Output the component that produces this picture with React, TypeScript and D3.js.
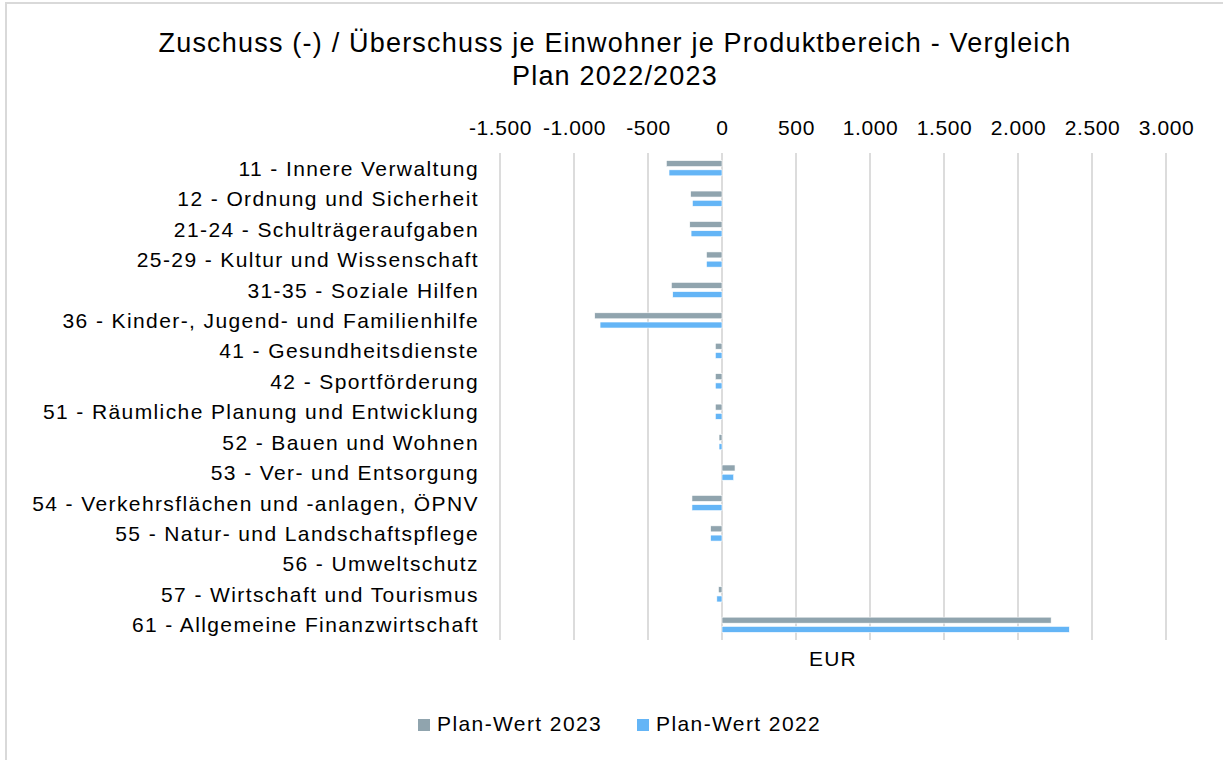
import React, { useEffect, useRef } from 'react'
import * as d3 from 'd3'

const categories = [
  '11 - Innere Verwaltung',
  '12 - Ordnung und Sicherheit',
  '21-24 - Schulträgeraufgaben',
  '25-29 - Kultur und Wissenschaft',
  '31-35 - Soziale Hilfen',
  '36 - Kinder-, Jugend- und Familienhilfe',
  '41 - Gesundheitsdienste',
  '42 - Sportförderung',
  '51 - Räumliche Planung und Entwicklung',
  '52 - Bauen und Wohnen',
  '53 - Ver- und Entsorgung',
  '54 - Verkehrsflächen und -anlagen, ÖPNV',
  '55 - Natur- und Landschaftspflege',
  '56 - Umweltschutz',
  '57 - Wirtschaft und Tourismus',
  '61 - Allgemeine Finanzwirtschaft',
]

const plan2023 = [-376, -212, -218, -105, -342, -860, -45, -45, -45, -20, 88, -203, -77, 0, -24, 2224]
const plan2022 = [-358, -200, -209, -105, -333, -824, -45, -45, -45, -20, 79, -203, -77, 0, -35, 2347]

const seriesNames = ['Plan-Wert 2023', 'Plan-Wert 2022']
const seriesColors = ['#90A4AE', '#64B5F6']
const xTicks = [-1500, -1000, -500, 0, 500, 1000, 1500, 2000, 2500, 3000]

const FONT = '"Liberation Sans", Arial, sans-serif'
const W = 1223
const H = 760
const left = 500
const right = 1166
const top = 153
const bottom = 640

const deFormat = d3.formatLocale({
  decimal: ',',
  thousands: '.',
  grouping: [3],
  currency: ['', ' €'],
  minus: '-',
}).format(',.0f')

const App = () => {
  const svgRef = useRef<SVGSVGElement>(null)

  useEffect(() => {
    const svg = d3.select(svgRef.current)

    const xScale = d3.scaleLinear().domain([-1500, 3000]).range([left, right])
    const yScale = d3.scaleBand<string>()
      .domain(categories)
      .range([top, bottom])
      .paddingInner(0.5)
      .paddingOuter(0.25)
    const subScale = d3.scaleBand<number>()
      .domain([0, 1])
      .range([0, yScale.bandwidth()])
      .paddingInner(0.35)

    // gridlines
    svg.select('.grid')
      .selectAll('line')
      .data(xTicks)
      .join('line')
      .attr('x1', d => xScale(d))
      .attr('x2', d => xScale(d))
      .attr('y1', top)
      .attr('y2', bottom)
      .attr('stroke', '#d9d9d9')
      .attr('stroke-width', 1.8)

    // top axis labels
    const xAxis = d3.axisTop(xScale)
      .tickValues(xTicks)
      .tickSize(0)
      .tickPadding(0)
      .tickFormat(d => deFormat(d as number))

    const ax = svg.select<SVGGElement>('.x-axis')
      .attr('transform', 'translate(0,135)')
      .call(xAxis)
    ax.select('.domain').remove()
    ax.selectAll('text')
      .attr('font-family', FONT)
      .attr('font-size', 21)
      .attr('letter-spacing', 0.6)
      .attr('fill', '#000')

    // category labels
    svg.select('.y-labels')
      .selectAll('text')
      .data(categories)
      .join('text')
      .attr('x', 479)
      .attr('y', d => (yScale(d) as number) + yScale.bandwidth() / 2)
      .attr('dy', '0.36em')
      .attr('text-anchor', 'end')
      .attr('font-family', FONT)
      .attr('font-size', 21)
      .attr('letter-spacing', 1.4)
      .attr('fill', '#000')
      .text(d => d)

    // bars
    const series = [plan2023, plan2022]
    svg.select('.bars')
      .selectAll('g')
      .data(series)
      .join('g')
      .attr('fill', (d, i) => seriesColors[i])
      .each(function (values, si) {
        d3.select(this)
          .selectAll('rect')
          .data(values)
          .join('rect')
          .attr('x', v => xScale(Math.min(0, v)))
          .attr('width', v => Math.abs(xScale(v) - xScale(0)))
          .attr('y', (v, i) => (yScale(categories[i]) as number) + (subScale(si) as number))
          .attr('height', subScale.bandwidth())
          .attr('stroke', '#fff')
          .attr('stroke-width', 0.6)
      })
  }, [])

  return (
    <svg
      ref={svgRef}
      width={W}
      height={H}
      style={{ position: 'absolute', left: 0, top: 0, background: '#fff' }}
    >
      <rect x={6} y={3} width={W + 10} height={H + 10} fill="#fff" stroke="#d9d9d9" strokeWidth={2} />
      <text x={615} y={52} textAnchor="middle" fontFamily={FONT} fontSize={27} letterSpacing={1.2} fill="#000">
        Zuschuss (-) / Überschuss je Einwohner je Produktbereich - Vergleich
      </text>
      <text x={615} y={85} textAnchor="middle" fontFamily={FONT} fontSize={27} letterSpacing={1.2} fill="#000">
        Plan 2022/2023
      </text>
      <g className="grid" />
      <g className="x-axis" />
      <g className="y-labels" />
      <g className="bars" />
      <text x={(left + right) / 2} y={666} textAnchor="middle" fontFamily={FONT} fontSize={21} letterSpacing={1.2} fill="#000">
        EUR
      </text>
      <g className="legend">
        {seriesNames.map((name, i) => (
          <g key={name} transform={`translate(${i === 0 ? 418 : 637},719)`}>
            <rect x={0} y={0} width={12} height={12} fill={seriesColors[i]} />
            <text x={19} y={12} fontFamily={FONT} fontSize={21} letterSpacing={1.4} fill="#000">
              {name}
            </text>
          </g>
        ))}
      </g>
    </svg>
  )
}

export default App
